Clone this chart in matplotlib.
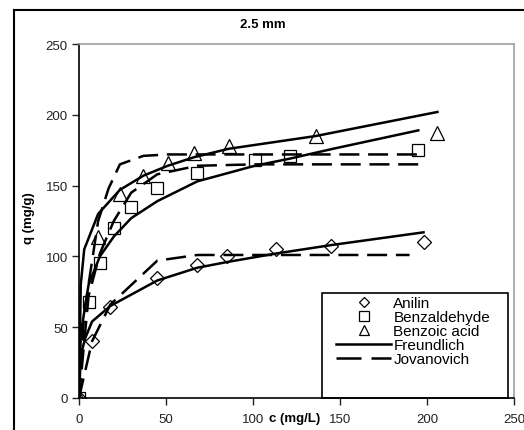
import matplotlib
matplotlib.use('Agg')
import matplotlib.pyplot as plt
from matplotlib.lines import Line2D
from matplotlib.patches import Rectangle

plt.rcParams['font.family'] = ['Liberation Sans', 'DejaVu Sans']

# measured points
c_anilin = [0, 7.5, 18, 45, 68, 85, 113, 145, 198]
q_anilin = [0, 40, 64, 85, 94, 100, 105, 107, 110]
c_benzald = [0, 5.5, 12, 20, 30, 45, 68, 101, 121, 195]
q_benzald = [0, 68, 95, 120, 135, 148, 159, 168, 171, 175]
c_benzoic = [0, 11, 23.5, 37, 51, 66, 86, 136, 206]
q_benzoic = [0, 114, 144, 157, 166, 173, 178, 185, 187]

# Freundlich fits (solid)
fr_anilin_c = [0, 1, 3.5, 7.5, 18, 45, 68, 85, 113, 145, 198]
fr_anilin_q = [0, 30, 42, 54, 65, 83, 92, 96, 102, 108, 117]
fr_benzald_c = [0, 1, 5.5, 12, 20, 30, 45, 68, 101, 121, 146, 195]
fr_benzald_q = [0, 45, 80, 100, 114, 127, 139, 153, 164, 169, 176, 189]
fr_benzoic_c = [0, 1, 3, 11, 23.5, 37, 51, 66, 86, 136, 206]
fr_benzoic_q = [0, 80, 105, 130, 147, 157, 164, 170, 176, 185, 202]

# Jovanovich fits (dashed)
jo_anilin_c = [0, 7.5, 18, 45, 68, 190]
jo_anilin_q = [0, 40, 66, 97, 101, 101]
jo_benzald_c = [0, 5.5, 12, 20, 30, 45, 68, 101, 195]
jo_benzald_q = [0, 72, 102, 125, 145, 158, 164, 165, 165]
jo_benzoic_c = [0, 3, 11, 17, 23.5, 37, 51, 195]
jo_benzoic_q = [0, 60, 125, 148, 165, 171, 172, 172]

fig = plt.figure(figsize=(5.24, 4.31), dpi=100)
ax = fig.add_axes([79/524, 1-399/431, 435/524, 354/431])

lw = 1.8
dash = (8, 3.5)
for cx, qy in [(fr_anilin_c, fr_anilin_q), (fr_benzald_c, fr_benzald_q), (fr_benzoic_c, fr_benzoic_q)]:
    ax.plot(cx, qy, color='black', lw=lw, solid_joinstyle='round')
for cx, qy in [(jo_anilin_c, jo_anilin_q), (jo_benzald_c, jo_benzald_q), (jo_benzoic_c, jo_benzoic_q)]:
    ax.plot(cx, qy, color='black', lw=lw, dashes=dash)

ms = 8.5
ax.plot(c_anilin, q_anilin, 'D', ms=ms-1.5, mfc='none', mec='black', mew=0.9)
ax.plot(c_benzald, q_benzald, 's', ms=ms, mfc='none', mec='black', mew=0.9)
ax.plot(c_benzoic, q_benzoic, '^', ms=ms+1, mfc='none', mec='black', mew=0.9)

ax.set_xlim(0, 250)
ax.set_ylim(0, 250)
ax.set_xticks([0, 50, 100, 150, 200, 250])
ax.set_yticks([0, 50, 100, 150, 200, 250])
ax.tick_params(direction='out', length=5, width=1, labelsize=9.5, colors='#222222')
ax.tick_params(axis='x', pad=6)
ax.tick_params(axis='y', pad=3)
ax.spines['left'].set_linewidth(1.2)
ax.spines['bottom'].set_linewidth(1.2)
ax.spines['top'].set_color('#a0a0a0')
ax.spines['right'].set_color('#a0a0a0')
ax.spines['top'].set_linewidth(1.2)
ax.spines['right'].set_linewidth(1.2)

# legend box
ax.add_patch(Rectangle((243/435, 0), 186/435, 105/354, transform=ax.transAxes,
                       fill=False, edgecolor='black', lw=1.2, zorder=5, clip_on=False))
handles = [
    Line2D([], [], ls='none', marker='D', ms=5, mfc='none', mec='black', mew=0.9),
    Line2D([], [], ls='none', marker='s', ms=6.5, mfc='none', mec='black', mew=0.9),
    Line2D([], [], ls='none', marker='^', ms=7, mfc='none', mec='black', mew=0.9),
    Line2D([], [], color='black', lw=lw),
    Line2D([], [], color='black', lw=lw, dashes=(10, 4)),
]
labels = ['Anilin', 'Benzaldehyde', 'Benzoic acid', 'Freundlich', 'Jovanovich']
ax.legend(handles, labels, loc='upper left', bbox_to_anchor=((336-79)/435, (399-297)/354),
          frameon=False, borderpad=0, handlelength=3.6, handletextpad=0.15,
          labelspacing=0.0, fontsize=11, borderaxespad=0)

fig.text(263/524, 1-25/431, '2.5 mm', ha='center', va='center', fontsize=9.5, fontweight='bold')
fig.text(295/524, 1-419/431, 'c (mg/L)', ha='center', va='center', fontsize=9.5, fontweight='bold')
fig.text(29/524, 1-218/431, 'q (mg/g)', ha='center', va='center', rotation=90, fontsize=9.5, fontweight='bold')

# outer frame
fig.add_artist(Line2D([14/524, 1], [1-11/431, 1-11/431], color='black', lw=1.5))
fig.add_artist(Line2D([14/524, 14/524], [0, 1-11/431], color='black', lw=1.5))

fig.savefig('out.png', dpi=100)
